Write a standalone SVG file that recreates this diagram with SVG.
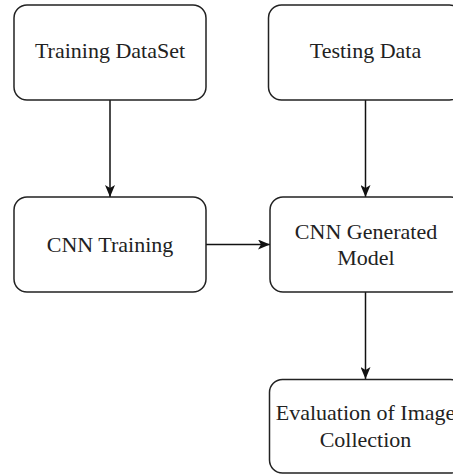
<svg xmlns="http://www.w3.org/2000/svg" width="453" height="475" viewBox="0 0 453 475">
<style>
.box{fill:#fff;stroke:#222;stroke-width:1.5}
.lbl{font-family:"Liberation Serif","Times New Roman",serif;font-size:22px;fill:#222;text-anchor:middle}
.edge{stroke:#111;stroke-width:1.5;fill:none}
</style>
<defs>
<marker id="ah" viewBox="0 0 12 10" refX="12" refY="5" markerWidth="12" markerHeight="10" markerUnits="userSpaceOnUse" orient="auto">
<path d="M0,0 L12,5 L0,10 L3,5 Z" fill="#111"/>
</marker>
</defs>
<rect width="453" height="475" fill="#fff"/>
<g id="edges">
<line class="edge" x1="110" y1="100" x2="110" y2="197" marker-end="url(#ah)"/>
<line class="edge" x1="365.5" y1="100" x2="365.5" y2="197" marker-end="url(#ah)"/>
<line class="edge" x1="206" y1="244.5" x2="270" y2="244.5" marker-end="url(#ah)"/>
<line class="edge" x1="365.5" y1="292" x2="365.5" y2="379" marker-end="url(#ah)"/>
</g>
<g id="training-dataset">
<rect class="box" x="14" y="5" width="192" height="95" rx="13"/>
<text class="lbl" x="110" y="58">Training DataSet</text>
</g>
<g id="testing-data">
<rect class="box" x="268.5" y="5" width="194" height="95" rx="13"/>
<text class="lbl" x="365.5" y="58">Testing Data</text>
</g>
<g id="cnn-training">
<rect class="box" x="14" y="197" width="192" height="95" rx="13"/>
<text class="lbl" x="110" y="252">CNN Training</text>
</g>
<g id="cnn-generated-model">
<rect class="box" x="270" y="197" width="194" height="95" rx="13"/>
<text class="lbl" x="366" y="239">CNN Generated</text>
<text class="lbl" x="366" y="265">Model</text>
</g>
<g id="evaluation">
<rect class="box" x="269.5" y="379.5" width="194" height="93.5" rx="13"/>
<text class="lbl" x="365.5" y="420">Evaluation of Image</text>
<text class="lbl" x="365.5" y="447">Collection</text>
</g>
</svg>
